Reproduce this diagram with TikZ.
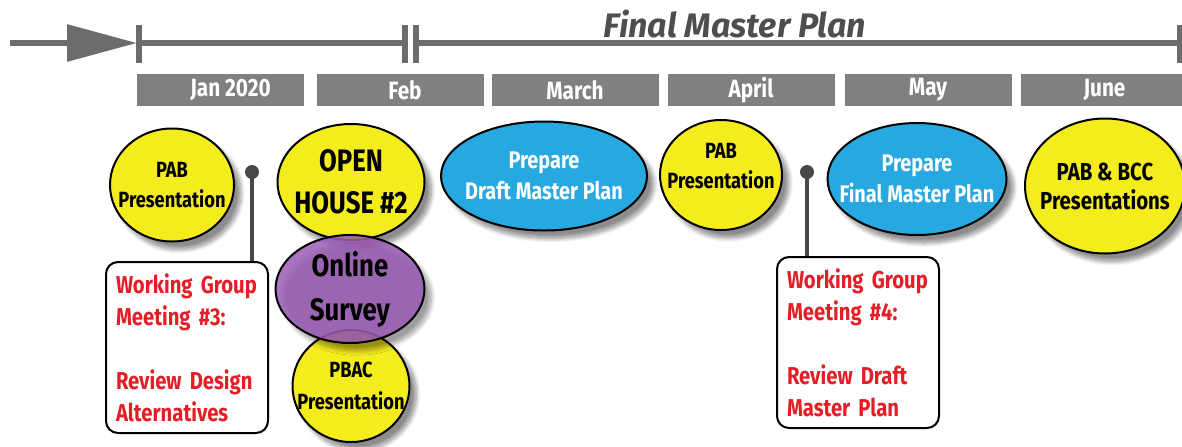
\documentclass[tikz,border=0pt]{standalone}
\usepackage{fontspec}
\setmainfont{Fira Sans}[FakeStretch=0.83]
\newfontfamily\titlefont{Fira Sans}
\usetikzlibrary{arrows.meta,shapes.geometric,shadows.blur}
\definecolor{barGray}{RGB}{128,128,128}
\definecolor{lineGray}{RGB}{108,108,108}
\definecolor{pinGray}{RGB}{72,72,72}
\definecolor{titleGray}{RGB}{78,78,78}
\definecolor{evYellow}{RGB}{245,236,30}
\definecolor{evBlue}{RGB}{40,168,224}
\definecolor{evPurple}{RGB}{156,92,182}
\definecolor{wgRed}{RGB}{228,30,38}

\begin{document}
\begin{tikzpicture}[x=0.5pt,y=-0.5pt,line join=round,>=Triangle,
  every node/.style={inner sep=0pt},
  timeline/.style={draw=lineGray,line width=3pt},
  month/.style={fill=barGray,text=white,minimum width=83.5pt,minimum height=16pt,
    font=\bfseries\fontsize{12.5}{13}\selectfont},
  event/.style={ellipse,draw=black,line width=1pt,align=center,inner xsep=-14pt,inner ysep=-8pt,
    font=\bfseries\fontsize{11}{15}\selectfont,
    blur shadow={shadow xshift=3.5pt,shadow yshift=-4pt,shadow blur steps=10,shadow opacity=45}},
  wgbox/.style={draw=black,line width=1pt,rounded corners=6pt,fill=white,text=wgRed,
    minimum width=81pt,minimum height=85.5pt,inner xsep=5pt,text width=71pt,align=left,
    font=\bfseries\fontsize{12.2}{16}\selectfont},
  pindot/.style={circle,fill=pinGray,minimum size=7pt},
  pinline/.style={draw=pinGray,line width=2pt}]
  \useasboundingbox (0,0) rectangle (1182,446);

  \node[font=\titlefont\bfseries\itshape\fontsize{17}{18}\selectfont,text=titleGray] (title) at (735,24) {Final Master Plan};
  \draw[timeline,-{Triangle[length=35pt,width=18pt]}] (10,43) -- (137,43);
  \draw[timeline] (139,43) -- (405,43);
  \draw[timeline] (416,43) -- (1182,43);
  \foreach \tx in {139,405,416,1180}
    \draw[timeline] (\tx,25) -- (\tx,63);

  \node[month] (jan) at (220.5,90) {\hspace*{10pt}Jan 2020};
  \node[month] (feb) at (400,90) {\hspace*{5pt}Feb};
  \node[month] (mar) at (575,90) {March};
  \node[month] (apr) at (751,90) {April};
  \node[month] (may) at (928,90) {May};
  \node[month] (jun) at (1104.5,90) {June};

  \node[event,fill=evYellow,minimum width=62pt,minimum height=56.5pt] (pabjan) at (172,185) {PAB\\Presentation};
  \node[event,fill=evYellow,minimum width=73.5pt,minimum height=58pt,font=\bfseries\fontsize{15.5}{21}\selectfont] (openhouse) at (351,182) {OPEN\\HOUSE \#2};
  \node[event,fill=evYellow,minimum width=58.5pt,minimum height=56pt,font=\bfseries\fontsize{11}{16}\selectfont] (pbac) at (351,386) {PBAC\\Presentation};
  \node[event,fill=evPurple,fill opacity=0.85,text opacity=1,minimum width=74.5pt,minimum height=54pt,font=\bfseries\fontsize{15.5}{22}\selectfont] (survey) at (350,289) {Online\\Survey};
  \node[event,fill=evBlue,text=white,minimum width=103pt,minimum height=54.5pt,font=\bfseries\fontsize{12}{15.5}\selectfont] (draft) at (544,176) {Prepare\\Draft Master Plan};
  \node[event,fill=evYellow,minimum width=61pt,minimum height=55pt] (pabapr) at (721,175) {PAB\\Presentation\\[-6pt]};
  \node[event,fill=evBlue,text=white,minimum width=89.5pt,minimum height=56pt,font=\bfseries\fontsize{12}{15.5}\selectfont] (final) at (917,179) {Prepare\\Final Master Plan};
  \node[event,fill=evYellow,minimum width=80pt,minimum height=67.5pt,font=\bfseries\fontsize{12.3}{14.5}\selectfont] (pabbcc) at (1105,186) {PAB \& BCC\\Presentations};

  \node[wgbox] (wg3) at (187,347.5) {Working Group\\Meeting \#3:\\[16pt]Review Design\\Alternatives};
  \node[wgbox] (wg4) at (858,342.5) {Working Group\\Meeting \#4:\\[16pt]Review Draft\\Master Plan};

  \node[pindot] (pin3) at (252,172) {};
  \node[pindot] (pin4) at (807,172) {};
  \draw[pinline] (pin3.center) -- (pin3 |- wg3.north);
  \draw[pinline] (pin4.center) -- (pin4 |- wg4.north);
\end{tikzpicture}
\end{document}
